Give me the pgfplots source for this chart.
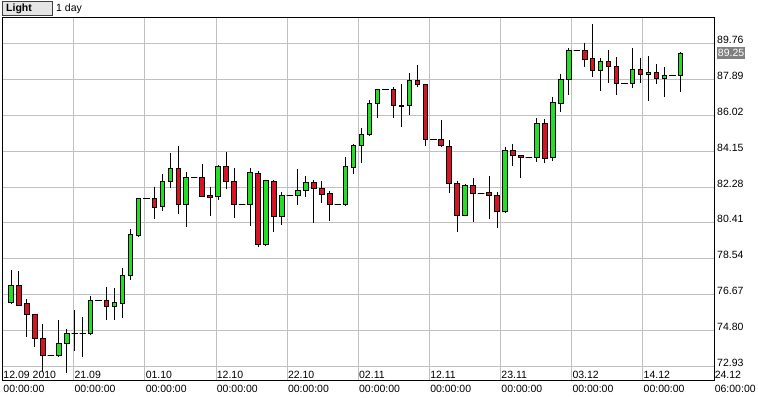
\documentclass[border=0pt]{standalone}
\usepackage{fontspec}
\setmainfont{Liberation Sans}
\usepackage{pgfplots}
\usepackage{pgfplotstable}
\pgfplotsset{compat=1.18}
\usepgfplotslibrary{statistics}
\definecolor{upcol}{RGB}{36,222,36}
\definecolor{downcol}{RGB}{214,20,36}
\definecolor{gridcol}{RGB}{192,192,192}
\definecolor{markgray}{RGB}{128,128,128}

\pgfplotstableread{
i O H L C
0 76.26 77.96 76.19 77.13
1 77.13 77.89 76.09 76.14
2 76.23 76.44 74.49 75.66
3 75.66 75.69 73.97 74.41
4 74.41 75.15 72.65 73.50
5 73.50 73.50 73.50 73.50
6 73.50 75.36 73.44 74.15
7 74.15 74.88 72.62 74.67
8 74.67 75.88 73.76 74.67
9 74.67 75.50 73.45 74.67
10 74.67 76.61 74.56 76.39
11 76.39 76.39 76.39 76.39
12 76.39 77.09 75.36 76.05
13 76.07 77.03 75.36 76.25
14 76.23 78.07 75.48 77.69
15 77.67 80.08 77.44 79.82
16 79.78 81.72 79.69 81.69
17 81.69 81.69 81.69 81.69
18 81.69 82.30 80.63 81.23
19 81.26 82.94 81.05 82.56
20 82.59 84.07 82.21 83.25
21 83.25 84.42 80.90 81.39
22 81.38 83.08 80.22 82.79
23 82.79 82.79 82.79 82.79
24 82.79 83.48 81.75 81.81
25 81.85 82.27 80.79 81.72
26 81.78 83.41 81.62 83.36
27 83.37 84.10 82.16 82.56
28 82.59 83.25 80.68 81.38
29 81.38 81.38 81.38 81.38
30 81.38 83.25 80.25 83.05
31 82.99 83.13 79.17 79.30
32 79.30 82.65 79.21 82.63
33 82.58 82.65 79.96 80.74
34 80.76 82.01 80.32 81.85
35 81.85 81.85 81.85 81.85
36 81.85 83.22 81.36 82.11
37 82.11 82.85 81.75 82.54
38 82.54 82.65 80.42 82.21
39 82.21 82.59 81.43 81.90
40 81.95 82.07 80.50 81.38
41 81.38 81.38 81.38 81.38
42 81.38 83.83 81.29 83.36
43 83.31 84.52 82.94 84.45
44 84.43 85.35 83.51 85.02
45 84.99 86.81 84.93 86.64
46 86.64 87.40 85.89 87.37
47 87.37 87.37 87.37 87.37
48 87.37 87.47 85.89 86.51
49 86.53 87.64 85.42 86.48
50 86.50 88.20 86.04 87.83
51 87.83 88.63 87.47 87.63
52 87.59 87.63 84.43 84.76
53 84.76 84.76 84.76 84.76
54 84.76 85.77 84.38 84.43
55 84.40 84.73 81.95 82.47
56 82.47 82.61 79.96 80.81
57 80.81 82.42 80.80 82.37
58 82.37 82.75 80.48 81.95
59 81.95 81.95 81.95 81.95
60 81.97 82.85 80.60 81.85
61 81.85 82.04 80.16 81.00
62 81.00 84.35 80.94 84.19
63 84.19 84.50 83.39 83.93
64 83.93 83.95 82.73 83.84
65 83.84 83.84 83.84 83.84
66 83.81 85.86 83.60 85.60
67 85.60 85.82 83.51 83.78
68 83.81 86.98 83.63 86.69
69 86.64 88.15 86.20 87.89
70 87.89 89.50 87.07 89.40
71 89.40 89.40 89.40 89.40
72 89.41 89.76 88.54 88.93
73 88.98 90.75 88.02 88.37
74 88.37 88.98 87.29 88.82
75 88.82 89.41 87.71 88.54
76 88.56 89.03 87.07 87.68
77 87.68 87.68 87.68 87.68
78 87.68 89.50 87.42 88.41
79 88.41 88.98 87.71 88.15
80 88.15 89.08 86.77 88.25
81 88.25 88.67 87.63 87.94
82 87.94 88.51 86.98 88.10
83 88.10 88.10 88.10 88.10
84 88.10 89.32 87.24 89.25
}\candles

\begin{document}
\begin{tikzpicture}
\useasboundingbox (0,0) rectangle (758bp,398bp);
\fill[white] (0,0) rectangle (758bp,398bp);
\begin{axis}[
  at={(2.7bp,17bp)}, anchor=south west,
  scale only axis, width=711.3bp, height=363.7bp,
  xmin=-1.042, xmax=88.228, ymin=72.186, ymax=91.113,
  xtick={-1.042,7.885,16.812,25.739,34.666,43.593,52.520,61.447,70.374,79.301,88.228},
  xticklabels={12.09 2010,21.09,01.10,12.10,22.10,02.11,12.11,23.11,03.12,14.12,24.12},
  ytick={72.93,74.80,76.67,78.54,80.41,82.28,84.15,86.02,87.89,89.76},
  yticklabels={72.93,74.80,76.67,78.54,80.41,82.28,84.15,86.02,87.89,89.76},
  yticklabel pos=right,
  grid=major,
  major grid style={draw=gridcol, line width=1bp},
  major tick length=0pt,
  axis line style={black, line width=1bp},
  /pgf/number format/assume math mode=true,
  tick label style={font=\fontsize{10.5bp}{12bp}\selectfont, inner sep=0pt, text=black},
  xticklabel style={anchor=base west, yshift=2.7bp, xshift=0.6bp},
  yticklabel style={anchor=base west, xshift=3bp},
  extra x ticks={-1.042,7.885,16.812,25.739,34.666,43.593,52.520,61.447,70.374,79.301,88.228},
  extra x tick labels={00:00:00,00:00:00,00:00:00,00:00:00,00:00:00,00:00:00,00:00:00,00:00:00,00:00:00,00:00:00,06:00:00},
  extra x tick style={grid=none, xticklabel style={yshift=-14.7bp}},
  boxplot/draw direction=y,
  clip=false,
]
\pgfplotsinvokeforeach{0,...,84}{
  \pgfplotstablegetelem{#1}{O}\of\candles \edef\vO{\pgfplotsretval}
  \pgfplotstablegetelem{#1}{H}\of\candles \edef\vH{\pgfplotsretval}
  \pgfplotstablegetelem{#1}{L}\of\candles \edef\vL{\pgfplotsretval}
  \pgfplotstablegetelem{#1}{C}\of\candles \edef\vC{\pgfplotsretval}
  \ifdim\vC pt>\vO pt
    \def\bodycol{upcol}\edef\lo{\vO}\edef\hi{\vC}\def\ext{0.58}
  \else\ifdim\vC pt<\vO pt
    \def\bodycol{downcol}\edef\lo{\vC}\edef\hi{\vO}\def\ext{0.58}
  \else
    \def\bodycol{white}\edef\lo{\vC}\edef\hi{\vC}\def\ext{0.8}
  \fi\fi
  \edef\candle{\noexpand\addplot[draw=black, line width=1bp, fill=\bodycol,
    boxplot prepared={draw position=#1, lower whisker=\vL, lower quartile=\lo,
      median=\lo, upper quartile=\hi, upper whisker=\vH,
      box extend=\ext, whisker extend=0}] coordinates {};}
  \candle
}
\node[anchor=west, xshift=2.7bp, fill=markgray, text=white, inner sep=0pt,
  minimum width=28.3bp, minimum height=12.3bp,
  font=\fontsize{10.5bp}{12bp}\selectfont] at (axis cs:88.228,89.25) {89.25};
\end{axis}
\draw[fill=black!10, draw=black!75, line width=0.8bp] (2.7bp,383bp) rectangle (52.7bp,396.3bp);
\node[anchor=base west, inner sep=0pt, font=\fontsize{10.5bp}{12bp}\selectfont\bfseries] at (6bp,386.3bp) {Light};
\node[anchor=base west, inner sep=0pt, font=\fontsize{10.5bp}{12bp}\selectfont] at (56bp,386.3bp) {1 day};
\end{tikzpicture}
\end{document}
